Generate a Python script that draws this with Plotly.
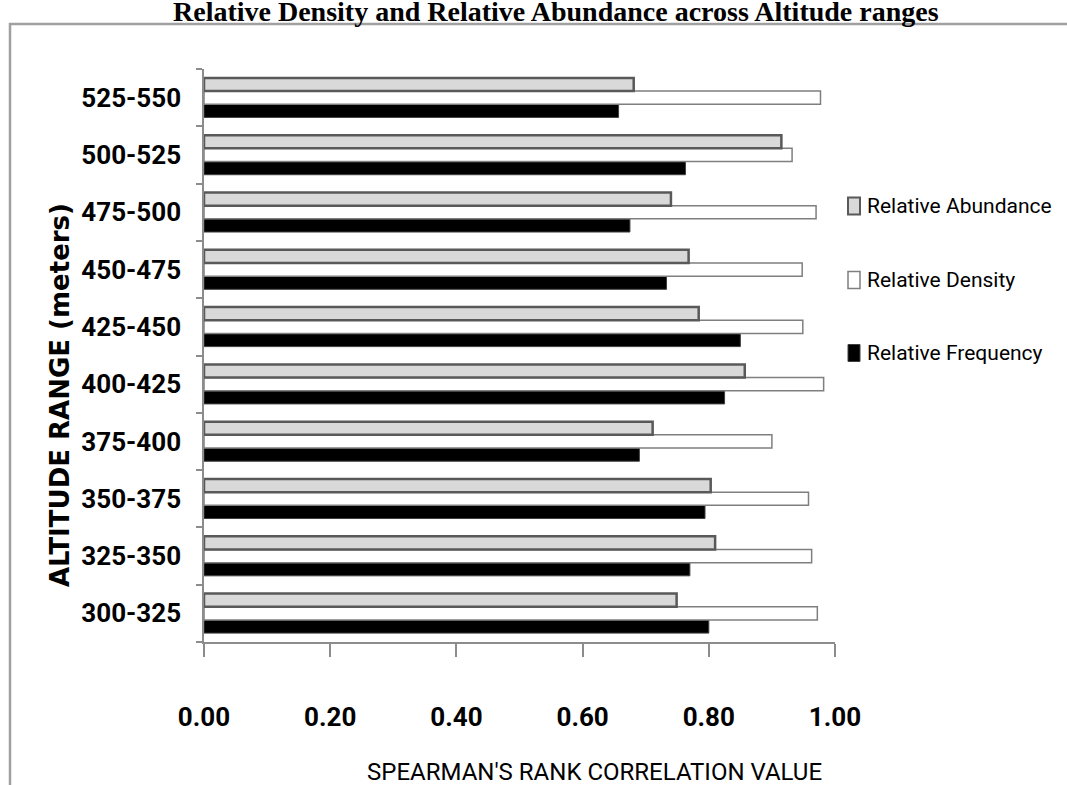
import plotly.graph_objects as go

# Altitude bands (bottom to top) and Spearman's rank correlation values
altitude_ranges = ["300-325", "325-350", "350-375", "375-400", "400-425",
                   "425-450", "450-475", "475-500", "500-525", "525-550"]
relative_abundance = [0.749, 0.810, 0.803, 0.711, 0.857, 0.784, 0.768, 0.740, 0.915, 0.681]
relative_density = [0.972, 0.963, 0.958, 0.900, 0.982, 0.949, 0.948, 0.970, 0.932, 0.977]
relative_frequency = [0.800, 0.770, 0.794, 0.690, 0.825, 0.850, 0.733, 0.675, 0.763, 0.657]
x_ticks = [0.0, 0.2, 0.4, 0.6, 0.8, 1.0]

SANS = "Roboto, Liberation Sans, sans-serif"

# Order: first trace sits at the bottom of each group
series = [
    ("Relative Frequency", relative_frequency, "#000000", "#3f3f3f", 1.0),
    ("Relative Density", relative_density, "#ffffff", "#7f7f7f", 1.5),
    ("Relative Abundance", relative_abundance, "#d9d9d9", "#595959", 2.5),
]

fig = go.Figure()
for name, vals, fill, edge, lw in series:
    fig.add_trace(go.Bar(
        y=altitude_ranges, x=vals, name=name, orientation="h",
        marker=dict(color=fill, line=dict(color=edge, width=lw)),
        showlegend=False, hoverinfo="skip",
    ))

L, R, T, B = 204, 232, 69, 143
W, H = 1067, 785
pw, ph = W - L - R, H - T - B

def px_x(p):
    return (p - L) / pw

def px_y(p):
    return (H - B - p) / ph

shapes = []
annotations = []

# Custom legend on the right (top to bottom: abundance, density, frequency)
legend_rows = [series[2], series[1], series[0]]
legend_y = [206, 280, 353]
for (name, vals, fill, edge, lw), yc in zip(legend_rows, legend_y):
    shapes.append(dict(type="rect", xref="paper", yref="paper",
                       x0=px_x(848), x1=px_x(860), y0=px_y(yc + 8.5), y1=px_y(yc - 8.5),
                       fillcolor=fill, line=dict(color=edge, width=min(lw, 2))))
    annotations.append(dict(text=name, xref="paper", yref="paper",
                            x=px_x(865), y=px_y(yc), xanchor="left", yanchor="middle",
                            showarrow=False,
                            font=dict(family=SANS, size=21, color="#000000")))

# Outer chart frame (top and left edges visible)
shapes.append(dict(type="rect", xref="paper", yref="paper",
                   x0=px_x(10), x1=px_x(1100), y0=px_y(820), y1=px_y(24),
                   line=dict(color="#a0a0a0", width=2.5), fillcolor="rgba(0,0,0,0)",
                   layer="below"))

# Title
annotations.append(dict(
    text="<b>Relative Density and Relative Abundance across Altitude ranges</b>",
    xref="paper", yref="paper", x=px_x(556), y=px_y(29), xanchor="center", yanchor="bottom",
    showarrow=False, font=dict(family="Liberation Serif, Times New Roman, serif", size=28,
                               color="#000000")))

# Axis titles
annotations.append(dict(
    text="<b>ALTITUDE RANGE (meters)</b>", xref="paper", yref="paper",
    x=px_x(60), y=px_y(395), xanchor="center", yanchor="middle", textangle=-90,
    showarrow=False, font=dict(family="DejaVu Sans, sans-serif", size=26, color="#000000")))
annotations.append(dict(
    text="SPEARMAN'S RANK CORRELATION VALUE", xref="paper", yref="paper",
    x=px_x(594), y=px_y(772), xanchor="center", yanchor="middle",
    showarrow=False, font=dict(family=SANS, size=24, color="#000000")))

fig.update_layout(
    width=W, height=H,
    margin=dict(l=L, r=R, t=T, b=B),
    paper_bgcolor="#ffffff", plot_bgcolor="#ffffff",
    barmode="group", bargap=0.31, bargroupgap=0.0,
    shapes=shapes, annotations=annotations,
    xaxis=dict(range=[0, 1], tickvals=x_ticks, tickformat=".2f",
               showgrid=False, zeroline=False, showline=True,
               linecolor="#8c8c8c", linewidth=1.5,
               ticks="outside", ticklen=13, tickcolor="#8c8c8c", tickwidth=1.5,
               ticklabelstandoff=38,
               tickfont=dict(family=SANS, size=26, weight="bold", color="#000000")),
    yaxis=dict(type="category", categoryorder="array", categoryarray=altitude_ranges,
               showgrid=False, zeroline=False, showline=True,
               linecolor="#8c8c8c", linewidth=1.5,
               ticks="outside", ticklen=6, tickcolor="#8c8c8c", tickwidth=1.5,
               tickson="boundaries", ticklabelstandoff=16,
               tickfont=dict(family=SANS, size=26, weight="bold", color="#000000")),
)

fig.write_html("out.html")
